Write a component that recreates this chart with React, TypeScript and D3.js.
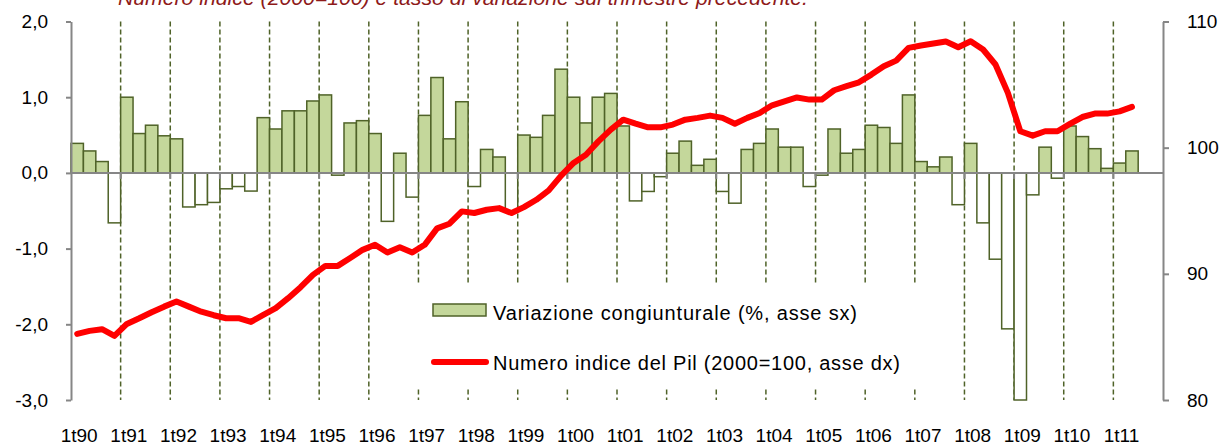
import { useEffect, useRef } from "react"
import * as d3 from "d3"

const years = d3.range(1990, 2012)
const quarters = years.flatMap((yr) => [1, 2, 3, 4].map((q) => `${q}t${String(yr).slice(2)}`))

// variazione congiunturale (%), 1t90 - 2t11
const variazione = [
  0.39, 0.29, 0.15, -0.66,
  1.0, 0.52, 0.63, 0.49,
  0.45, -0.45, -0.42, -0.39,
  -0.21, -0.18, -0.24, 0.73,
  0.58, 0.82, 0.82, 0.95,
  1.03, -0.03, 0.66, 0.69,
  0.52, -0.64, 0.26, -0.32,
  0.76, 1.26, 0.45, 0.94,
  -0.18, 0.31, 0.21, -0.5,
  0.5, 0.47, 0.76, 1.37,
  1.0, 0.66, 1.0, 1.05,
  0.62, -0.37, -0.245, -0.05,
  0.26, 0.42, 0.1, 0.18,
  -0.245, -0.4, 0.31, 0.39,
  0.58, 0.34, 0.34, -0.18,
  -0.03, 0.58, 0.26, 0.31,
  0.63, 0.6, 0.39, 1.03,
  0.15, 0.08, 0.21, -0.42,
  0.39, -0.66, -1.14, -2.06,
  -3.0, -0.29, 0.34, -0.07,
  0.62, 0.48, 0.32, 0.06,
  0.13, 0.29,
]

// numero indice del Pil (2000=100)
const indice = [
  85.24, 85.48, 85.61, 85.08,
  86.03, 86.48, 86.96, 87.4,
  87.8, 87.4, 87.0, 86.72,
  86.48, 86.48, 86.19, 86.75,
  87.28, 88.07, 88.94, 89.92,
  90.63, 90.63, 91.25, 91.9,
  92.3, 91.69, 92.1, 91.69,
  92.3, 93.6, 93.97, 94.95,
  94.82, 95.08, 95.21, 94.82,
  95.29, 95.87, 96.61, 97.78,
  98.79, 99.44, 100.5, 101.43,
  102.22, 101.9, 101.61, 101.61,
  101.83, 102.22, 102.36, 102.54,
  102.36, 101.9, 102.36, 102.75,
  103.36, 103.67, 103.98, 103.81,
  103.81, 104.55, 104.87, 105.18,
  105.79, 106.45, 106.9, 107.91,
  108.1, 108.25, 108.41, 107.96,
  108.44, 107.78, 106.59, 104.34,
  101.3, 100.95, 101.3, 101.3,
  101.88, 102.43, 102.7, 102.7,
  102.88, 103.23,
]

const leftTicks = [2, 1, 0, -1, -2, -3]
const rightTicks = [110, 100, 90, 80]

const title = "Numero indice (2000=100) e tasso di variazione sul trimestre precedente."
const legendBar = "Variazione congiunturale (%, asse sx)"
const legendLine = "Numero indice del Pil (2000=100, asse dx)"

export default function App() {
  const svgRef = useRef<SVGSVGElement>(null)

  useEffect(() => {
    if (!svgRef.current) return
    const svg = d3.select(svgRef.current)
    svg.selectAll("*").remove()

    const left = 71
    const right = 1163
    const top = 21.5
    const bottom = 400
    const font = "Arial, 'Liberation Sans', sans-serif"
    const olive = "#4f6228"
    const gray = "#868686"

    const x = d3.scaleBand().domain(quarters).range([left, right]).padding(0)
    const yL = d3.scaleLinear().domain([-3, 2]).range([bottom, top])
    const yR = d3.scaleLinear().domain([80, 110]).range([bottom, top])

    const firsts = quarters.filter((q) => q.startsWith("1t"))

    // title (clipped at top like the original)
    svg.append("text")
      .attr("x", 118)
      .attr("y", 4.5)
      .attr("font-family", font)
      .attr("font-size", 20)
      .attr("font-style", "italic")
      .attr("fill", "#8e1a1a")
      .attr("textLength", 690)
      .attr("lengthAdjust", "spacingAndGlyphs")
      .text(title)

    // dashed year lines
    svg.append("g")
      .selectAll("line")
      .data(firsts.slice(1))
      .enter()
      .append("line")
      .attr("x1", (d) => x(d)!)
      .attr("x2", (d) => x(d)!)
      .attr("y1", top)
      .attr("y2", bottom)
      .attr("stroke", olive)
      .attr("stroke-width", 1.5)
      .attr("stroke-dasharray", "5,3")

    // bars
    const data = variazione.map((v, i) => ({ q: quarters[i], v }))
    svg.append("g")
      .selectAll("rect")
      .data(data)
      .enter()
      .append("rect")
      .attr("x", (d) => x(d.q)!)
      .attr("width", x.bandwidth())
      .attr("y", (d) => (d.v >= 0 ? yL(d.v) : yL(0)))
      .attr("height", (d) => Math.abs(yL(d.v) - yL(0)))
      .attr("fill", (d) => (d.v >= 0 ? "#c4d79b" : "#ffffff"))
      .attr("stroke", olive)
      .attr("stroke-width", 1.5)

    // zero line + year ticks
    svg.append("line")
      .attr("x1", left).attr("x2", right)
      .attr("y1", yL(0)).attr("y2", yL(0))
      .attr("stroke", gray).attr("stroke-width", 2)
    svg.append("g")
      .selectAll("line")
      .data(firsts.slice(1))
      .enter()
      .append("line")
      .attr("x1", (d) => x(d)!)
      .attr("x2", (d) => x(d)!)
      .attr("y1", yL(0))
      .attr("y2", yL(0) + 6)
      .attr("stroke", gray)
      .attr("stroke-width", 2)

    // left axis
    const fmt = (d: number) => d.toFixed(1).replace(".", ",")
    const gl = svg.append("g").attr("transform", `translate(${left},0)`)
    gl.call(d3.axisLeft(yL).tickValues(leftTicks).tickSize(5).tickSizeOuter(0).tickFormat((d) => fmt(d as number)))
    gl.select(".domain").attr("stroke", gray).attr("stroke-width", 2)
    gl.selectAll(".tick line").attr("stroke", gray).attr("stroke-width", 2)
    gl.selectAll(".tick text").attr("font-family", font).attr("font-size", 19).attr("fill", "#000").attr("x", -23)

    // right axis
    const gr = svg.append("g").attr("transform", `translate(${right},0)`)
    gr.call(d3.axisRight(yR).tickValues(rightTicks).tickSize(6).tickSizeOuter(0))
    gr.select(".domain").attr("stroke", gray).attr("stroke-width", 2)
    gr.selectAll(".tick line").attr("stroke", gray).attr("stroke-width", 2)
    gr.selectAll(".tick text").attr("font-family", font).attr("font-size", 19).attr("fill", "#000").attr("x", 24)

    // x labels
    svg.append("g")
      .selectAll("text")
      .data(firsts)
      .enter()
      .append("text")
      .attr("x", (d) => x(d)! + x.bandwidth() / 2 + 2)
      .attr("y", 442)
      .attr("text-anchor", "middle")
      .attr("font-family", font)
      .attr("font-size", 19)
      .attr("fill", "#000")
      .text((d) => d)

    // line series
    const line = d3.line<number>()
      .x((_, i) => x(quarters[i])! + x.bandwidth() / 2)
      .y((d) => yR(d))
    svg.append("path")
      .datum(indice)
      .attr("d", line)
      .attr("fill", "none")
      .attr("stroke", "#ff0000")
      .attr("stroke-width", 6)
      .attr("stroke-linejoin", "round")
      .attr("stroke-linecap", "round")

    // legend
    const lg = svg.append("g")
    lg.append("rect").attr("x", 402).attr("y", 283).attr("width", 536).attr("height", 105).attr("fill", "#fff")
    lg.append("rect").attr("x", 433).attr("y", 304).attr("width", 53).attr("height", 12)
      .attr("fill", "#c4d79b").attr("stroke", olive).attr("stroke-width", 1.5)
    lg.append("text").attr("x", 493).attr("y", 320)
      .attr("font-family", font).attr("font-size", 20).attr("fill", "#000")
      .attr("textLength", 364).attr("lengthAdjust", "spacing")
      .text(legendBar)
    lg.append("line").attr("x1", 434).attr("x2", 486).attr("y1", 362).attr("y2", 362)
      .attr("stroke", "#ff0000").attr("stroke-width", 6).attr("stroke-linecap", "round")
    lg.append("text").attr("x", 493).attr("y", 370)
      .attr("font-family", font).attr("font-size", 20).attr("fill", "#000")
      .attr("textLength", 407).attr("lengthAdjust", "spacing")
      .text(legendLine)
  }, [])

  return (
    <svg
      ref={svgRef}
      width={1225}
      height={446}
      style={{ position: "absolute", left: 0, top: 0, background: "#fff" }}
    />
  )
}
